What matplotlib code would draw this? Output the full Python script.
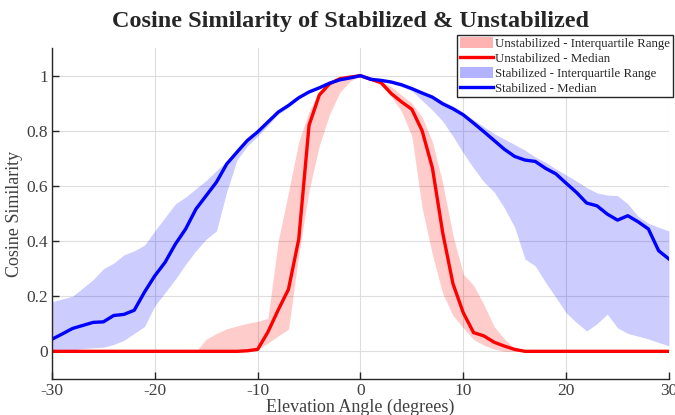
"""Cosine similarity vs. elevation angle: stabilized vs. unstabilized (median + IQR)."""

import matplotlib
matplotlib.use("Agg")
import matplotlib.pyplot as plt
from matplotlib.lines import Line2D
from matplotlib.patches import Patch

plt.rcParams["font.family"] = ["Liberation Serif", "DejaVu Serif"]
plt.rcParams["axes.unicode_minus"] = False

# ---------------------------------------------------------------------------
# data (one value per degree, -30 .. 30)
# ---------------------------------------------------------------------------
angles = [-30, -29, -28, -27, -26, -25, -24, -23, -22, -21, -20, -19, -18, -17, -16,
          -15, -14, -13, -12, -11, -10, -9, -8, -7, -6, -5, -4, -3, -2, -1,
          0, 1, 2, 3, 4, 5, 6, 7, 8, 9, 10, 11, 12, 13, 14,
          15, 16, 17, 18, 19, 20, 21, 22, 23, 24, 25, 26, 27, 28, 29, 30]

unstab_med = [0, 0, 0, 0, 0, 0, 0, 0, 0, 0, 0, 0, 0, 0, 0,
              0, 0, 0, 0, 0.002, 0.007, 0.07, 0.15, 0.225, 0.407, 0.82, 0.93, 0.971, 0.989, 0.995,
              1.0, 0.987, 0.975, 0.935, 0.905, 0.878, 0.80, 0.665, 0.43, 0.245, 0.14, 0.068, 0.056, 0.033, 0.019,
              0.007, 0, 0, 0, 0, 0, 0, 0, 0, 0, 0, 0, 0, 0, 0, 0]
unstab_q1 = [0, 0, 0, 0, 0, 0, 0, 0, 0, 0, 0, 0, 0, 0, 0,
             0, 0, 0, 0, 0, 0.005, 0.03, 0.056, 0.08, 0.35, 0.583, 0.747, 0.86, 0.94, 0.98,
             1.0, 0.985, 0.965, 0.925, 0.87, 0.78, 0.52, 0.35, 0.21, 0.13, 0.085, 0.043, 0.022, 0.008, 0,
             0, 0, 0, 0, 0, 0, 0, 0, 0, 0, 0, 0, 0, 0, 0, 0]
unstab_q3 = [0, 0, 0, 0, 0, 0, 0, 0, 0, 0, 0, 0, 0, 0, 0,
             0.044, 0.065, 0.082, 0.092, 0.102, 0.109, 0.12, 0.40, 0.578, 0.76, 0.87, 0.945, 0.975, 0.99, 0.997,
             1.0, 0.99, 0.98, 0.96, 0.93, 0.90, 0.85, 0.76, 0.61, 0.42, 0.28, 0.24, 0.17, 0.09, 0.045,
             0.01, 0, 0, 0, 0, 0, 0, 0, 0, 0, 0, 0, 0, 0, 0, 0]

stab_med = [0.044, 0.063, 0.083, 0.094, 0.105, 0.107, 0.130, 0.134, 0.149, 0.215, 0.274, 0.323, 0.389, 0.444, 0.516,
            0.565, 0.614, 0.680, 0.723, 0.765, 0.796, 0.832, 0.868, 0.892, 0.920, 0.941, 0.956, 0.973, 0.985, 0.992,
            1.0, 0.987, 0.983, 0.977, 0.967, 0.953, 0.937, 0.922, 0.898, 0.880, 0.858, 0.828, 0.797, 0.765, 0.733,
            0.707, 0.694, 0.689, 0.664, 0.644, 0.610, 0.577, 0.538, 0.528, 0.498, 0.476, 0.492, 0.470, 0.444, 0.365, 0.335]
stab_q1 = [0.0, 0.002, 0.005, 0.01, 0.013, 0.015, 0.025, 0.04, 0.065, 0.09, 0.165, 0.213, 0.262, 0.316, 0.365,
           0.407, 0.437, 0.58, 0.695, 0.745, 0.78, 0.82, 0.86, 0.885, 0.915, 0.938, 0.953, 0.97, 0.983, 0.99,
           1.0, 0.985, 0.98, 0.972, 0.96, 0.945, 0.91, 0.875, 0.835, 0.78, 0.72, 0.665, 0.615, 0.578, 0.52,
           0.45, 0.335, 0.31, 0.25, 0.196, 0.14, 0.105, 0.074, 0.10, 0.135, 0.085, 0.065, 0.055, 0.045, 0.032, 0.02]
stab_q3 = [0.18, 0.19, 0.20, 0.23, 0.26, 0.30, 0.32, 0.35, 0.365, 0.385, 0.437, 0.486, 0.535, 0.56, 0.59,
           0.62, 0.656, 0.69, 0.727, 0.768, 0.80, 0.836, 0.872, 0.896, 0.923, 0.944, 0.959, 0.975, 0.987, 0.994,
           1.0, 0.99, 0.987, 0.981, 0.973, 0.96, 0.945, 0.93, 0.908, 0.89, 0.866, 0.84, 0.815, 0.79, 0.77,
           0.75, 0.73, 0.705, 0.686, 0.662, 0.64, 0.618, 0.594, 0.575, 0.567, 0.565, 0.535, 0.49, 0.465, 0.45, 0.437]

x_ticks = [-30, -20, -10, 0, 10, 20, 30]
y_ticks = [0, 0.2, 0.4, 0.6, 0.8, 1]
y_tick_labels = ["0", "0.2", "0.4", "0.6", "0.8", "1"]

TEXT_GRAY = "#404040"

fig = plt.figure(figsize=(6.75, 4.15), dpi=100)
ax = fig.add_axes([0.077, 0.087, 0.914, 0.797])

ax.fill_between(angles, unstab_q1, unstab_q3, color="red", alpha=0.2, linewidth=0)
ax.plot(angles, unstab_med, color="red", linewidth=2.4)
ax.fill_between(angles, stab_q1, stab_q3, color="blue", alpha=0.2, linewidth=0)
ax.plot(angles, stab_med, color="blue", linewidth=2.4)

ax.set_xlim(-30, 30)
ax.set_ylim(-0.1, 1.1)
ax.set_xticks(x_ticks)
ax.set_xticklabels([str(t) for t in x_ticks])
ax.set_yticks(y_ticks)
ax.set_yticklabels(y_tick_labels)
ax.tick_params(direction="in", length=5, width=1, colors="#262626", labelcolor=TEXT_GRAY,
               labelsize=12.5, pad=3)
ax.grid(color="#dedede", linewidth=0.8)
ax.set_axisbelow(True)
for side in ("top", "right"):
    ax.spines[side].set_visible(False)
for side in ("left", "bottom"):
    ax.spines[side].set_color("#262626")
    ax.spines[side].set_linewidth(1)

ax.set_xlabel("Elevation Angle (degrees)", fontsize=13, color=TEXT_GRAY, labelpad=0)
ax.set_ylabel("Cosine Similarity", fontsize=13, color=TEXT_GRAY, labelpad=2)

fig.text(0.52, 0.935, "Cosine Similarity of Stabilized & Unstabilized", ha="center", va="baseline",
         fontsize=17.5, fontweight="bold", color="#262626")

handles = [
    Patch(facecolor="red", alpha=0.3, linewidth=0),
    Line2D([], [], color="red", linewidth=2.4),
    Patch(facecolor="blue", alpha=0.3, linewidth=0),
    Line2D([], [], color="blue", linewidth=2.4),
]
labels = ["Unstabilized - Interquartile Range", "Unstabilized - Median",
          "Stabilized - Interquartile Range", "Stabilized - Median"]
leg = fig.legend(handles, labels, loc="upper left", bbox_to_anchor=(0.677, 0.916), fontsize=9.3,
                 frameon=True, fancybox=False, framealpha=1, edgecolor="#262626",
                 handlelength=2.6, handleheight=0.9, handletextpad=0.15, labelspacing=0.15,
                 borderpad=0.2, borderaxespad=0)
leg.get_frame().set_linewidth(1)
for t in leg.get_texts():
    t.set_color("#262626")

fig.savefig("out.png", dpi=100)
